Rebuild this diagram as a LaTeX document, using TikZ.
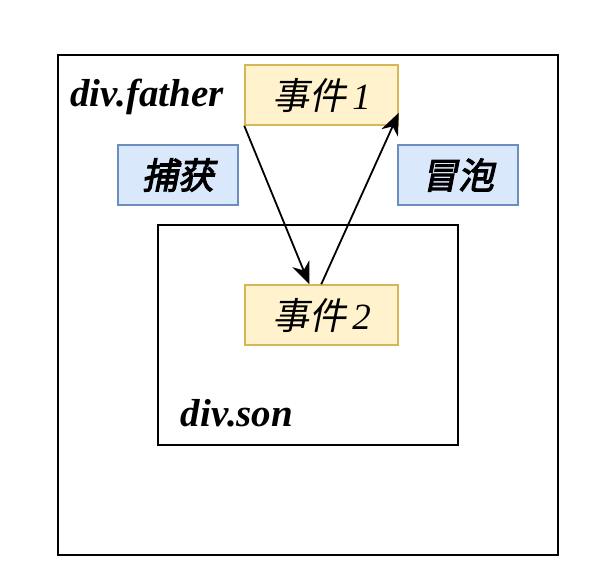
\documentclass[tikz,border=0pt]{standalone}
\usepackage{fontspec}
\setmainfont{Liberation Serif}
\newfontfamily\cjk[FakeSlant=0.2]{Noto Sans CJK SC}
\newfontfamily\cjkb[FakeSlant=0.2,FakeBold=3]{Noto Sans CJK SC}
\usetikzlibrary{arrows.meta,positioning}
\definecolor{evfill}{HTML}{FFF2CC}
\definecolor{evdraw}{HTML}{D6B656}
\definecolor{phfill}{HTML}{DAE8FC}
\definecolor{phdraw}{HTML}{6C8EBF}

\begin{document}
\begin{tikzpicture}[
	x = 1pt, y = -1pt,
	event/.style = {draw=evdraw, fill=evfill, line width=1.5pt, minimum width=153pt,
		minimum height=60pt, inner sep=0pt, font=\fontsize{37}{44}\selectfont\itshape},
	phase/.style = {draw=phdraw, fill=phfill, line width=1.5pt, minimum width=120pt,
		minimum height=60pt, inner sep=0pt, font=\fontsize{36}{44}\selectfont\cjkb},
	divbox/.style = {draw, line width=1.8pt},
	divname/.style = {inner sep=0pt, font=\fontsize{39}{44}\selectfont\bfseries\itshape},
	flow/.style = {-{Stealth[length=22pt,width=18pt,inset=7pt]}, line width=1.8pt}
	]
	\useasboundingbox (0,0) rectangle (589,583);
	\node[divbox, minimum width=500pt, minimum height=500pt] (father) at (308,305) {};
	\node[divbox, minimum width=300pt, minimum height=220pt] (son) at (308,335) {};
	\node[divname] (fname) at (147,97) {div.father};
	\node[divname] (sname) at (237,413) {div.son};
	\node[event] (e1) at (321.5,95) {{\cjk 事件}\kern6pt 1};
	\node[event] (e2) at (321.5,315) {{\cjk 事件}\kern6pt 2};
	\node[phase] (cap) at (178,175) {捕获};
	\node[phase] (bub) at (458,175) {冒泡};
	\draw[flow] (e1.south west) -- ([xshift=65pt]e2.north west);
	\draw[flow] ([xshift=77pt]e2.north west) -- ([yshift=13pt]e1.south east);
\end{tikzpicture}
\end{document}
